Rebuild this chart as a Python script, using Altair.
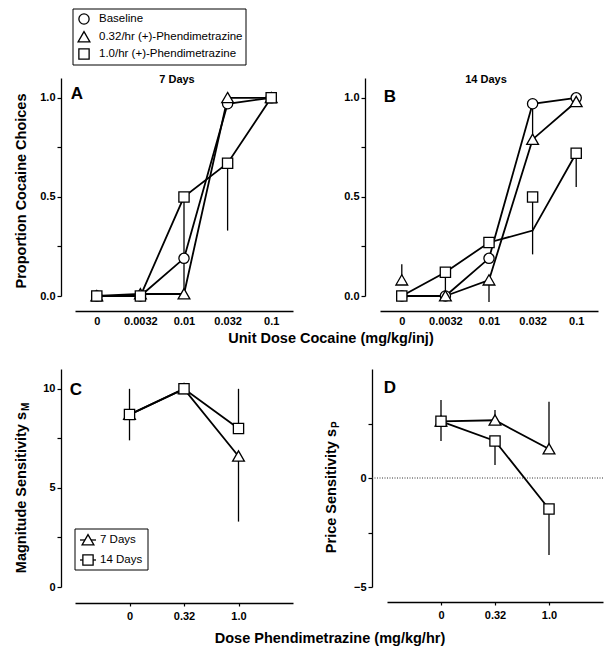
import altair as alt
import pandas as pd

FONT = "Liberation Sans"

# ---------------- data ----------------
cocaine_doses = ["0", "0.0032", "0.01", "0.032", "0.1"]
cocaine_series = ["Baseline", "0.32/hr (+)-Phendimetrazine", "1.0/hr (+)-Phendimetrazine"]

TRI = "M0,-1.05L1.15,0.95L-1.15,0.95Z"
cocaine_shapes = ["circle", TRI, "square"]

# Panel A (7 days): proportion cocaine choices
a_baseline = [0.0, 0.0, 0.19, 0.97, 1.0]
a_low = [0.0, 0.01, 0.01, 1.0, 1.0]
a_high = [0.0, 0.0, 0.5, 0.67, 1.0]
a_baseline_err = [None, None, None, None, None]
a_low_err = [None, None, None, None, None]
a_high_err = [None, None, 0.0, 0.33, None]

# Panel B (14 days)
b_baseline = [0.0, 0.0, 0.19, 0.97, 1.0]
b_low = [0.08, 0.0, 0.08, 0.79, 0.98]
b_high = [0.0, 0.12, 0.27, 0.5, 0.72]
b_baseline_err = [None, None, None, None, None]
b_low_err = [0.16, None, -0.03, 0.97, None]
b_high_err = [None, 0.0, None, 0.21, 0.55]
# values of the connecting lines (where they depart from the markers)
b_baseline_line = [0.0, 0.0, 0.19, 0.97, 1.0]
b_low_line = [None, 0.0, 0.08, 0.79, 0.98]
b_high_line = [0.0, 0.12, 0.27, 0.33, 0.72]

phen_doses = ["0", "0.32", "1.0"]
phen_series = ["7 Days", "14 Days"]
phen_shapes = [TRI, "square"]

# Panel C: magnitude sensitivity
c_7 = [8.7, 10.0, 6.6]
c_14 = [8.7, 10.0, 8.0]
c_7_err = [7.4, None, 3.3]
c_14_err = [10.0, None, 10.0]

# Panel D: price sensitivity
d_7 = [2.6, 2.65, 1.33]
d_14 = [2.6, 1.7, -1.42]
d_7_err = [3.58, 3.12, 3.5]
d_14_err = [1.7, 0.6, -3.53]


def long_table(cats, names, vals, errs, lines):
    rows = []
    for name, v, e, l in zip(names, vals, errs, lines):
        for c, vv, ee, ll in zip(cats, v, e, l):
            rows.append({"dose": c, "series": name, "value": vv, "err": ee, "line": ll})
    return pd.DataFrame(rows)


df_a = long_table(cocaine_doses, cocaine_series, [a_baseline, a_low, a_high],
                  [a_baseline_err, a_low_err, a_high_err], [a_baseline, a_low, a_high])
df_b = long_table(cocaine_doses, cocaine_series, [b_baseline, b_low, b_high],
                  [b_baseline_err, b_low_err, b_high_err], [b_baseline_line, b_low_line, b_high_line])
df_c = long_table(phen_doses, phen_series, [c_7, c_14], [c_7_err, c_14_err], [c_7, c_14])
df_d = long_table(phen_doses, phen_series, [d_7, d_14], [d_7_err, d_14_err], [d_7, d_14])

W = 218
H = 218
TITLE_SIZE = 14.5
PT_SIZE = 105


def txt(text, x, y, size=11, bold=True, angle=0, align="center", baseline="middle"):
    kw = dict(font=FONT, fontSize=size, fontWeight="bold" if bold else "normal",
              color="black", align=align, baseline=baseline)
    if angle:
        kw["angle"] = angle
    return alt.Chart(pd.DataFrame({"t": [text]})).mark_text(**kw).encode(
        text="t:N", x=alt.value(x), y=alt.value(y))


def legend_layers(names, shapes, box, sym_x, label_x, row_ys, through=False):
    x0, y0, x1, y1 = box
    layers = [alt.Chart(pd.DataFrame({"b": [0]})).mark_rect(
        fill="white", stroke="black", strokeWidth=1).encode(
        x=alt.value(x0), x2=alt.value(x1), y=alt.value(y0), y2=alt.value(y1))]
    for name, shp, ry in zip(names, shapes, row_ys):
        d = pd.DataFrame({"series": [name]})
        if through:
            layers.append(alt.Chart(d).mark_rule(color="black", strokeWidth=1.3).encode(
                x=alt.value(sym_x - 8), x2=alt.value(sym_x + 8), y=alt.value(ry)))
        layers.append(alt.Chart(d).mark_point(
            shape=shp, size=PT_SIZE, filled=False, fill="white", fillOpacity=1,
            stroke="black", strokeWidth=1.3, opacity=1).encode(
            x=alt.value(sym_x), y=alt.value(ry)))
        layers.append(alt.Chart(d).mark_text(
            font=FONT, fontSize=11.5, color="black", align="left", baseline="middle").encode(
            text="series:N", x=alt.value(label_x), y=alt.value(ry)))
    return layers


def panel(df, cats, names, shapes, pad, xrange, ydom, yvals, label_expr, extras,
          yoff=14, xoff=15, xticks=False):
    xenc = alt.X("dose:N", sort=cats, title=None,
                 scale=alt.Scale(type="point", domain=cats, padding=pad, range=xrange),
                 axis=alt.Axis(labelAngle=0, offset=xoff, domainColor="black", domainWidth=1.3,
                               ticks=xticks, tickColor="black", tickSize=3, tickWidth=1.2,
                               labelFont=FONT, labelFontWeight="bold", labelFontSize=11,
                               labelColor="black", labelPadding=4, grid=False))
    yscale = alt.Scale(domain=ydom, nice=False, zero=False)
    yaxis = alt.Axis(values=yvals, labelExpr=label_expr, offset=yoff, domainColor="black",
                     domainWidth=1.3, tickColor="black", tickSize=4, tickWidth=1.2,
                     labelFont=FONT, labelFontWeight="bold", labelFontSize=11,
                     labelColor="black", labelPadding=2, grid=False)
    lines = alt.Chart(df).transform_filter("datum.line != null").mark_line(
        color="black", strokeWidth=1.8).encode(
        x=xenc, y=alt.Y("line:Q", scale=yscale, axis=yaxis, title=None), detail="series:N")
    errs = alt.Chart(df).transform_filter("datum.err != null").mark_rule(
        color="black", strokeWidth=1.3).encode(
        x=xenc, y=alt.Y("value:Q", scale=yscale, title=None), y2="err:Q")
    pts = alt.Chart(df).mark_point(filled=False, fill="white", fillOpacity=1, stroke="black",
                                   color="black", strokeWidth=1.3, size=PT_SIZE, opacity=1).encode(
        x=xenc, y=alt.Y("value:Q", scale=yscale, title=None),
        shape=alt.Shape("series:N", scale=alt.Scale(domain=names, range=shapes), legend=None))
    return alt.layer(*(extras[0] + [lines, errs, pts] + extras[1])).properties(width=W, height=H)


prop_expr = "datum.value == 0 ? '0.0' : datum.value == 0.5 ? '0.5' : datum.value == 1 ? '1.0' : ''"

legend_top = legend_layers(cocaine_series, cocaine_shapes, (-2, -69, 171, -13), 9, 24,
                           [-59, -41, -24])
legend_bottom = legend_layers(phen_series, phen_shapes, (0, 160, 73, 201), 13, 25,
                              [171, 191], through=True)

panel_a = panel(
    df_a, cocaine_doses, cocaine_series, cocaine_shapes, 0.5, [0, W], [0, 1.1],
    [0, 0.25, 0.5, 0.75, 1.0], prop_expr,
    ([], [txt("A", 2, 16, size=17), txt("7 Days", 102, 2),
          txt("Proportion Cocaine Choices", -53, 113, size=TITLE_SIZE, angle=270),
          txt("Unit Dose Cocaine (mg/kg/inj)", 256, 261, size=TITLE_SIZE)] + legend_top))

panel_b = panel(
    df_b, cocaine_doses, cocaine_series, cocaine_shapes, 0.5, [0, W], [0, 1.1],
    [0, 0.25, 0.5, 0.75, 1.0], prop_expr,
    ([], [txt("B", 10, 19, size=17), txt("14 Days", 106, 2)]), yoff=15)

panel_c = panel(
    df_c, phen_doses, phen_series, phen_shapes, 1.0, [0, W], [0, 11],
    [0, 2.5, 5, 7.5, 10], "datum.value % 5 == 0 ? datum.label : ''",
    ([], [txt("C", 1, 21, size=17),
          txt("Magnitude Sensitivity s", -53, 43, size=TITLE_SIZE, angle=270, align="right"),
          txt("M", -49, 42, size=10, angle=270, align="left"),
          txt("Dose Phendimetrazine (mg/kg/hr)", 255, 270, size=TITLE_SIZE)] + legend_bottom),
    xoff=16, xticks=True)

D_SHIFT = 7
zero_line = alt.Chart(pd.DataFrame({"z": [0]})).mark_rule(
    color="#333333", strokeWidth=1, strokeDash=[1, 1.5]).encode(
    y=alt.Y("z:Q"), x=alt.value(D_SHIFT - 15), x2=alt.value(D_SHIFT + W - 2))

panel_d = panel(
    df_d, phen_doses, phen_series, phen_shapes, 1.0, [D_SHIFT, D_SHIFT + W - 2], [-5, 5],
    [-5, -2.5, 0, 2.5], "datum.value % 5 == 0 ? datum.label : ''",
    ([zero_line], [txt("D", 10, 19, size=17),
                   txt("Price Sensitivity s", -48, 60, size=TITLE_SIZE, angle=270, align="right"),
                   txt("P", -44, 59, size=10, angle=270, align="left")]),
    yoff=15 - D_SHIFT, xticks=True)

chart = alt.concat(
    panel_a, panel_b, panel_c, panel_d, columns=2,
    spacing={"row": 73, "column": 87}, bounds="flush"
).resolve_scale(shape="independent").configure_view(stroke=None).properties(
    padding={"left": 5, "top": 0, "right": 0, "bottom": 5})

chart.save("out.html", embed_options={"renderer": "svg", "actions": False})
